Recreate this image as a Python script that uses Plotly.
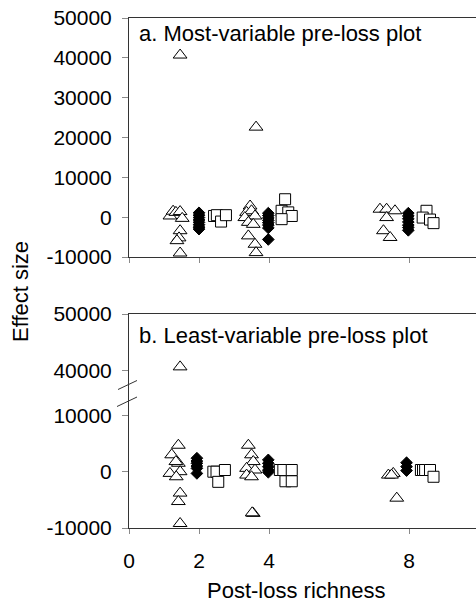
import plotly.graph_objects as go

# ---------------- data ----------------
# Panel a: most-variable pre-loss plot
a_tri_x = [1.17, 1.26, 1.34, 1.46, 1.52, 1.46, 1.43, 1.37, 1.46, 1.46,
           3.46, 3.36, 3.50, 3.60, 3.31, 3.41, 3.55, 3.41, 3.60, 3.63, 3.63,
           7.17, 7.36, 7.60, 7.36, 7.27, 7.46]
a_tri_y = [300, 1500, 1200, 1400, -300, -3400, -5200, -5900, -9000, 40700,
           2800, 1200, 1600, 300, -100, -1300, -1800, -4700, -6800, -8900, 22600,
           2000, 2000, 1600, -100, -3400, -5100]

a_dia_x = [2.0] * 8 + [3.98] * 8 + [7.98] * 7
a_dia_y = [1100, 500, -100, -700, -1300, -1900, -2500, -3000,
           1000, 400, -200, -800, -1400, -2000, -2700, -5600,
           1000, 300, -400, -1200, -2000, -2600, -3300]

a_sq_x = [2.43, 2.51, 2.63, 2.77,
          4.46, 4.36, 4.55, 4.65, 4.36,
          8.50, 8.39, 8.60, 8.70]
a_sq_y = [300, 500, -1100, 500,
          4500, 1600, 1200, 300, -500,
          1600, -100, -600, -1500]

# Panel b: least-variable pre-loss plot
b_tri_x = [1.41, 1.22, 1.41, 1.34, 1.46, 1.17, 1.35, 1.46, 1.41, 1.46, 1.46,
           3.41, 3.50, 3.55, 3.36, 3.60, 3.36, 3.50, 3.55, 3.52,
           7.41, 7.55, 7.50, 7.65]
b_tri_y = [4700, 3000, 1500, 1800, 0, -300, -900, -3800, -5300, -9200, 40700,
           4700, 3000, 1800, 600, 300, -600, -900, -7400, -7300,
           -600, -300, -600, -4700]

b_dia_x = [1.94] * 6 + [3.98] * 5 + [7.93] * 3
b_dia_y = [2400, 1900, 1500, 1000, 600, -300,
           2100, 1500, 900, 300, -100,
           1600, 900, 200]

b_sq_x = [2.41, 2.50, 2.74, 2.55,
          4.31, 4.41, 4.65, 4.47, 4.65,
          8.34, 8.40, 8.46, 8.60, 8.70]
b_sq_y = [0, 0, 300, -1800,
          300, 300, 300, -1700, -1700,
          300, 300, 300, 300, -900]

x_ticks = [0, 2, 4, 8]
a_y_ticks = [-10000, 0, 10000, 20000, 30000, 40000, 50000]
b_low_ticks = [-10000, 0, 10000]
b_high_ticks = [40000, 50000]
BREAK = 20000  # values above this sit on the upper segment of panel b

# ---------------- layout geometry ----------------
W, H = 476, 604
L, R, T, B = 129, 0, 18, 76
PW, PH = W - L - R, H - T - B
X_MAX = 9.914

def px_x(p):
    return (p - L) / PW

def px_y(p):
    return (H - B - p) / PH

FONT = "Liberation Sans, Arial, Helvetica, sans-serif"
FS = 22      # titles and panel labels
TFS = 21     # tick labels
LINE = "#333333"
TICK = "#8a8a8a"

tri = dict(symbol="triangle-up", size=12, color="white",
           line=dict(color="black", width=1))
dia = dict(symbol="diamond", size=9, color="black",
           line=dict(color="black", width=1))
sq = dict(symbol="square", size=11, color="white",
          line=dict(color="black", width=1))

fig = go.Figure()

def add(xs, ys, marker, xa, ya):
    fig.add_trace(go.Scatter(x=xs, y=ys, mode="markers", marker=marker,
                             xaxis=xa, yaxis=ya, showlegend=False,
                             hoverinfo="x+y"))

# panel a
add(a_tri_x, a_tri_y, tri, "x", "y")
add(a_dia_x, a_dia_y, dia, "x", "y")
add(a_sq_x, a_sq_y, sq, "x", "y")

# panel b, split over the broken axis
def split(xs, ys):
    lo = [(x, y) for x, y in zip(xs, ys) if y <= BREAK]
    hi = [(x, y) for x, y in zip(xs, ys) if y > BREAK]
    return ([p[0] for p in lo], [p[1] for p in lo]), ([p[0] for p in hi], [p[1] for p in hi])

for xs, ys, mk in [(b_tri_x, b_tri_y, tri), (b_dia_x, b_dia_y, dia), (b_sq_x, b_sq_y, sq)]:
    (lx, ly), (hx, hy) = split(xs, ys)
    add(lx, ly, mk, "x2", "y2")
    if hx:
        add(hx, hy, mk, "x3", "y3")

def labels(vals):
    return [str(v) for v in vals]

common_x = dict(range=[0, X_MAX], tickvals=x_ticks, ticktext=labels(x_ticks),
                showgrid=False, zeroline=False,
                showline=True, linecolor=LINE, linewidth=1,
                ticks="outside", ticklen=5, tickcolor=TICK, tickwidth=1)
common_y = dict(showgrid=False, zeroline=False, showline=True, linecolor=LINE,
                linewidth=1, ticks="outside", ticklen=6, tickcolor=TICK,
                tickwidth=1, tickfont=dict(size=TFS, color="black"),
                ticklabelstandoff=6)

top_a, bot_a = 1.0, px_y(257)
b_split = px_y(393)
b_top = px_y(314)

fig.update_layout(
    width=W, height=H,
    margin=dict(l=L, r=R, t=T, b=B, pad=0),
    paper_bgcolor="white", plot_bgcolor="white",
    font=dict(family=FONT, size=FS, color="black"),
    xaxis=dict(common_x, anchor="y", mirror=True, showticklabels=False),
    yaxis=dict(common_y, domain=[bot_a, top_a], range=[-10000, 50000],
               tickvals=a_y_ticks, ticktext=labels(a_y_ticks), anchor="x"),
    xaxis2=dict(common_x, anchor="y2", showticklabels=True,
                tickfont=dict(size=TFS, color="black"), ticklabelstandoff=9),
    yaxis2=dict(common_y, domain=[0, b_split], range=[-10000, 13980],
                tickvals=b_low_ticks, ticktext=labels(b_low_ticks), anchor="x2"),
    xaxis3=dict(range=[0, X_MAX], anchor="y3", side="top", showline=True,
                linecolor=LINE, linewidth=1, showticklabels=False, ticks="",
                showgrid=False, zeroline=False),
    yaxis3=dict(common_y, domain=[b_split, b_top], range=[36100, 50000],
                tickvals=b_high_ticks, ticktext=labels(b_high_ticks), anchor="x3"),
)

# axis-break marks on the left axis of panel b
for (x0, y0, x1, y1) in [(118, 389.5, 137, 380.5), (117, 406.5, 137, 397)]:
    fig.add_shape(type="line", xref="paper", yref="paper",
                  x0=px_x(x0), y0=px_y(y0), x1=px_x(x1), y1=px_y(y1),
                  line=dict(color=LINE, width=1))

txt = dict(size=FS, color="black", family=FONT)
fig.add_annotation(text="a. Most-variable pre-loss plot", xref="paper", yref="paper",
                   x=px_x(137), y=px_y(33), xanchor="left", yanchor="middle",
                   showarrow=False, font=txt)
fig.add_annotation(text="b. Least-variable pre-loss plot", xref="paper", yref="paper",
                   x=px_x(137), y=px_y(335), xanchor="left", yanchor="middle",
                   showarrow=False, font=txt)
fig.add_annotation(text="Effect size", xref="paper", yref="paper",
                   x=px_x(20), y=px_y(292), xanchor="center", yanchor="middle",
                   textangle=-90, showarrow=False, font=txt)
fig.add_annotation(text="Post-loss richness", xref="paper", yref="paper",
                   x=px_x(296), y=px_y(590), xanchor="center", yanchor="middle",
                   showarrow=False, font=txt)

fig.write_html("out.html")
